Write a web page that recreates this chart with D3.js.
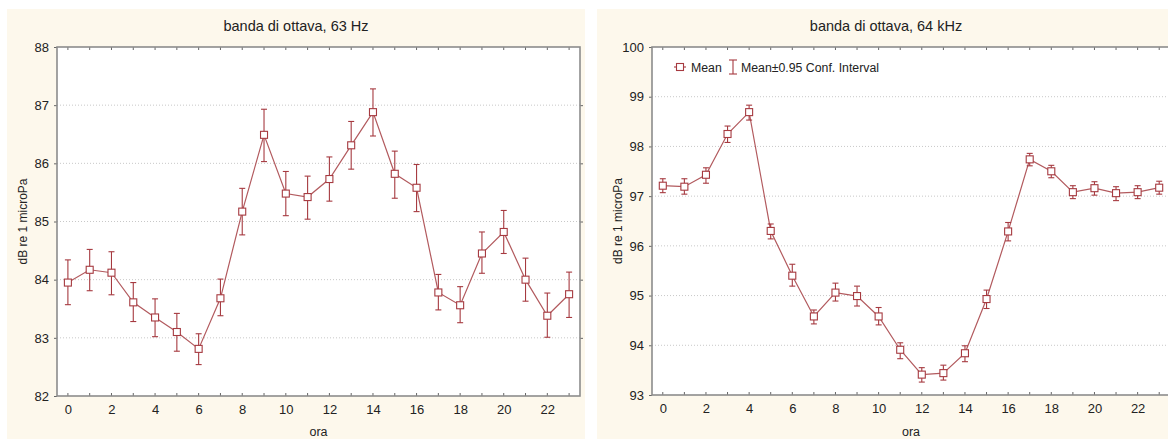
<!DOCTYPE html>
<html>
<head>
<meta charset="utf-8">
<script src="https://cdn.jsdelivr.net/npm/d3@7"></script>
<style>
  body { margin: 0; background: #fff; }
  svg { display: block; font-family: "Liberation Sans", Arial, sans-serif; }
</style>
</head>
<body>
<svg id="chart" width="1168" height="439"></svg>
<script>
// hours
const hours = d3.range(0, 24)

// 63 Hz band: mean, lower and upper 95% CI
const mean63 = [83.95, 84.17, 84.12, 83.61, 83.35, 83.10, 82.81, 83.68, 85.17, 86.49, 85.48, 85.42,
                85.73, 86.31, 86.88, 85.82, 85.58, 83.78, 83.56, 84.45, 84.82, 84.00, 83.38, 83.75]
const lo63 = [83.57, 83.81, 83.74, 83.28, 83.02, 82.77, 82.54, 83.38, 84.77, 86.03, 85.10, 85.04,
              85.35, 85.90, 86.47, 85.40, 85.17, 83.48, 83.26, 84.11, 84.45, 83.63, 83.01, 83.35]
const hi63 = [84.34, 84.52, 84.48, 83.95, 83.67, 83.42, 83.07, 84.01, 85.57, 86.93, 85.86, 85.78,
              86.11, 86.72, 87.28, 86.21, 85.98, 84.09, 83.88, 84.82, 85.19, 84.37, 83.77, 84.13]

// 64 kHz band
const mean64 = [97.21, 97.19, 97.43, 98.25, 98.69, 96.30, 95.40, 94.58, 95.06, 94.99, 94.58, 93.91,
                93.41, 93.44, 93.84, 94.93, 96.29, 97.74, 97.50, 97.08, 97.16, 97.06, 97.08, 97.17]
const lo64 = [97.07, 97.04, 97.26, 98.08, 98.53, 96.14, 95.19, 94.43, 94.89, 94.79, 94.41, 93.73,
              93.26, 93.30, 93.67, 94.74, 96.10, 97.61, 97.37, 96.95, 97.02, 96.91, 96.95, 97.04]
const hi64 = [97.35, 97.35, 97.57, 98.41, 98.83, 96.44, 95.63, 94.71, 95.25, 95.19, 94.76, 94.05,
              93.55, 93.60, 93.99, 95.11, 96.47, 97.86, 97.62, 97.21, 97.29, 97.19, 97.21, 97.30]

const xTicks = [0, 2, 4, 6, 8, 10, 12, 14, 16, 18, 20, 22]
const yTicks63 = [82, 83, 84, 85, 86, 87, 88]
const yTicks64 = [93, 94, 95, 96, 97, 98, 99, 100]

const titles = ['banda di ottava, 63 Hz', 'banda di ottava, 64 kHz']
const yLabel = 'dB re 1 microPa'
const xLabel = 'ora'
const legendLabels = ['Mean', 'Mean\u00b10.95 Conf. Interval']

const lineColor = '#b25a5e'
const markColor = '#a63a40'

const svg = d3.select('#chart')

function panel(opts) {
    const {box, plot, title, mean, lo, hi, yTicks, legend} = opts

    const g = svg.append('g')

    g.append('rect')
        .attr('x', box.x).attr('y', box.y)
        .attr('width', box.w).attr('height', box.h)
        .attr('fill', '#fdf8ec')

    g.append('rect')
        .attr('x', plot.left).attr('y', plot.top)
        .attr('width', plot.right - plot.left).attr('height', plot.bottom - plot.top)
        .attr('fill', '#fff')

    const x = d3.scaleLinear().domain([-0.5, 23.5]).range([plot.left, plot.right])
    const y = d3.scaleLinear().domain(d3.extent(yTicks)).range([plot.bottom, plot.top])

    // grid
    g.append('g').selectAll('line')
        .data(yTicks.slice(1, -1))
        .join('line')
            .attr('x1', plot.left).attr('x2', plot.right)
            .attr('y1', d => y(d)).attr('y2', d => y(d))
            .attr('stroke', '#c8c8c8')
            .attr('stroke-dasharray', '1,2')

    // left axis
    const gy = g.append('g')
        .attr('transform', `translate(${plot.left},0)`)
        .call(d3.axisLeft(y).tickValues(yTicks).tickSize(3).tickPadding(5).tickFormat(d3.format('d')))
    gy.select('.domain').remove()
    gy.selectAll('line').attr('stroke', '#666')
    gy.selectAll('text').attr('font-size', 13).attr('fill', '#222').attr('font-family', null)

    // right ticks
    g.append('g')
        .attr('transform', `translate(${plot.right},0)`)
        .call(d3.axisRight(y).tickValues(yTicks.slice(1, -1)).tickSize(3).tickFormat(''))
        .call(a => a.select('.domain').remove())
        .selectAll('line').attr('stroke', '#666')

    // bottom axis
    const gx = g.append('g')
        .attr('transform', `translate(0,${plot.bottom})`)
        .call(d3.axisBottom(x).tickValues(xTicks).tickSize(0).tickPadding(9))
    gx.select('.domain').remove()
    gx.selectAll('text').attr('font-size', 13).attr('fill', '#222').attr('font-family', null)

    // inner ticks top and bottom
    g.append('g').selectAll('line')
        .data(hours)
        .join('line')
            .attr('x1', d => x(d)).attr('x2', d => x(d))
            .attr('y1', plot.bottom).attr('y2', plot.bottom - 3)
            .attr('stroke', '#666')
    g.append('g').selectAll('line')
        .data(hours)
        .join('line')
            .attr('x1', d => x(d)).attr('x2', d => x(d))
            .attr('y1', plot.top).attr('y2', plot.top + 3)
            .attr('stroke', '#666')

    // frame
    g.append('rect')
        .attr('x', plot.left).attr('y', plot.top)
        .attr('width', plot.right - plot.left).attr('height', plot.bottom - plot.top)
        .attr('fill', 'none')
        .attr('stroke', '#8c8c8c')
        .attr('stroke-width', 1.6)

    // title & labels
    g.append('text')
        .attr('x', box.x + box.w / 2).attr('y', 31)
        .attr('text-anchor', 'middle')
        .attr('font-size', 14.5).attr('fill', '#222')
        .text(title)

    g.append('text')
        .attr('transform', `translate(${plot.left - 30},${(plot.top + plot.bottom) / 2}) rotate(-90)`)
        .attr('text-anchor', 'middle')
        .attr('font-size', 12).attr('fill', '#222')
        .text(yLabel)

    g.append('text')
        .attr('x', (plot.left + plot.right) / 2).attr('y', 436)
        .attr('text-anchor', 'middle')
        .attr('font-size', 12.5).attr('fill', '#222')
        .text(xLabel)

    // series
    const data = hours.map((h, i) => ({h, m: mean[i], lo: lo[i], hi: hi[i]}))

    g.append('path')
        .datum(data)
        .attr('fill', 'none')
        .attr('stroke', lineColor)
        .attr('stroke-width', 1.2)
        .attr('d', d3.line().x(d => x(d.h)).y(d => y(d.m)))

    const eb = g.append('g')
        .attr('stroke', markColor)
        .attr('stroke-width', 1.1)
        .selectAll('g')
        .data(data)
        .join('g')
    eb.append('line')
        .attr('x1', d => x(d.h)).attr('x2', d => x(d.h))
        .attr('y1', d => y(d.lo)).attr('y2', d => y(d.hi))
    eb.append('line')
        .attr('x1', d => x(d.h) - 3).attr('x2', d => x(d.h) + 3)
        .attr('y1', d => y(d.hi)).attr('y2', d => y(d.hi))
    eb.append('line')
        .attr('x1', d => x(d.h) - 3).attr('x2', d => x(d.h) + 3)
        .attr('y1', d => y(d.lo)).attr('y2', d => y(d.lo))

    g.append('g').selectAll('rect')
        .data(data)
        .join('rect')
            .attr('x', d => x(d.h) - 3.5).attr('y', d => y(d.m) - 3.5)
            .attr('width', 7).attr('height', 7)
            .attr('fill', '#fff')
            .attr('stroke', markColor)
            .attr('stroke-width', 1.1)

    if (legend) {
        const lx = plot.left + 28, ly = plot.top + 20
        const lg = g.append('g').attr('stroke', markColor).attr('stroke-width', 1.1)
        lg.append('line').attr('x1', lx - 6).attr('x2', lx + 6).attr('y1', ly).attr('y2', ly)
        lg.append('rect').attr('x', lx - 3.5).attr('y', ly - 3.5).attr('width', 7).attr('height', 7).attr('fill', '#fff')
        const ex = lx + 53
        lg.append('line').attr('x1', ex).attr('x2', ex).attr('y1', ly - 7).attr('y2', ly + 7)
        lg.append('line').attr('x1', ex - 4).attr('x2', ex + 4).attr('y1', ly - 7).attr('y2', ly - 7)
        lg.append('line').attr('x1', ex - 4).attr('x2', ex + 4).attr('y1', ly + 7).attr('y2', ly + 7)
        g.append('text').attr('x', lx + 11).attr('y', ly + 4.5)
            .attr('font-size', 12.3).attr('fill', '#222').text(legendLabels[0])
        g.append('text').attr('x', ex + 8).attr('y', ly + 4.5)
            .attr('font-size', 12.3).attr('fill', '#222').text(legendLabels[1])
    }
}

panel({
    box: {x: 7, y: 9, w: 578, h: 430},
    plot: {left: 57, right: 580, top: 47, bottom: 396},
    title: titles[0], mean: mean63, lo: lo63, hi: hi63, yTicks: yTicks63, legend: false
})

panel({
    box: {x: 597, y: 9, w: 578, h: 430},
    plot: {left: 652, right: 1170, top: 47, bottom: 395},
    title: titles[1], mean: mean64, lo: lo64, hi: hi64, yTicks: yTicks64, legend: true
})
</script>
</body>
</html>
